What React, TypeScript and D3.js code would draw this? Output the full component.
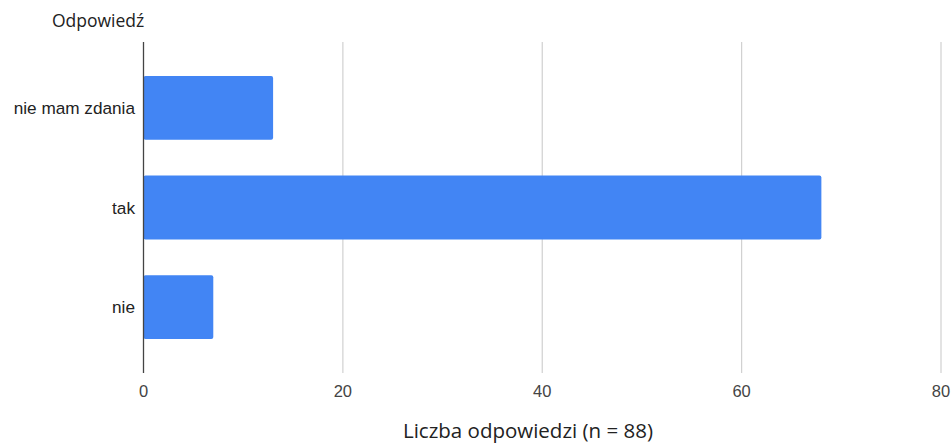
import React from "react";
import * as d3 from "d3";

const categories = ["nie mam zdania", "tak", "nie"];
const values = [13, 68, 7];
const xTicks = [0, 20, 40, 60, 80];
const yTitle = "Odpowiedź";
const xTitle = "Liczba odpowiedzi (n = 88)";

const W = 952;
const H = 443;

export default function App() {
  const x = d3.scaleLinear().domain([0, 80]).range([143.5, 941]);
  const y = d3
    .scaleBand<string>()
    .domain(categories)
    .range([58, 357])
    .paddingInner(0.36)
    .paddingOuter(0.18);
  const top = 42;
  const bottom = 373;
  const font = "Arial, 'Liberation Sans', sans-serif";
  return (
    <svg
      width={W}
      height={H}
      style={{ position: "absolute", left: 0, top: 0, background: "#fff" }}
    >
      {xTicks.map((t) =>
        t === 0 ? null : (
          <line
            key={"g" + t}
            x1={x(t)}
            x2={x(t)}
            y1={top}
            y2={bottom}
            stroke="#d0d0d0"
            strokeWidth={1.2}
          />
        )
      )}
      {categories.map((c, i) => (
        <rect
          key={c}
          x={x(0)}
          y={y(c)!}
          width={x(values[i]) - x(0)}
          height={y.bandwidth()}
          fill="#4285f4"
          rx={2}
        />
      ))}
      <line x1={x(0)} x2={x(0)} y1={top} y2={bottom} stroke="#444" strokeWidth={1.3} />
      {xTicks.map((t) => (
        <text
          key={"t" + t}
          x={x(t)}
          y={397}
          textAnchor="middle"
          fontFamily={font}
          fontSize={16.5}
          fill="#444"
        >
          {t}
        </text>
      ))}
      {categories.map((c) => (
        <text
          key={"l" + c}
          x={135}
          y={y(c)! + y.bandwidth() / 2 + 6}
          textAnchor="end"
          fontFamily={font}
          fontSize={17.2}
          fill="#222"
        >
          {c}
        </text>
      ))}
      <text x={52} y={27} fontFamily="'Open Sans', sans-serif" fontSize={17.5} fill="#222">
        {yTitle}
      </text>
      <text
        x={528}
        y={438}
        textAnchor="middle"
        fontFamily="'Open Sans', sans-serif"
        fontSize={20.5}
        fill="#222"
      >
        {xTitle}
      </text>
    </svg>
  );
}
